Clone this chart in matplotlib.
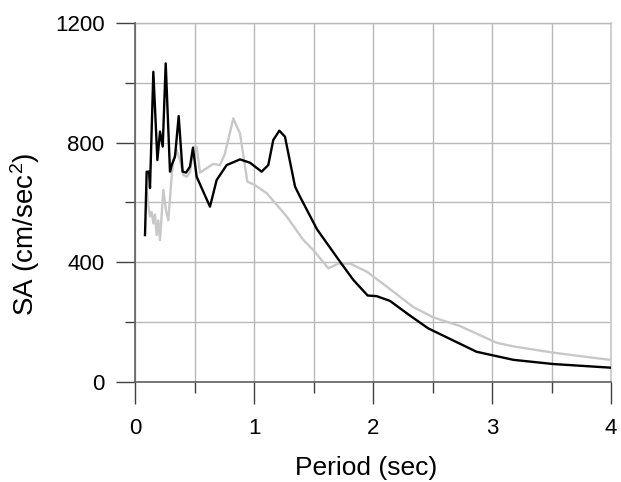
import matplotlib
matplotlib.use("Agg")
import matplotlib.pyplot as plt
from matplotlib.ticker import MultipleLocator

plt.rcParams['font.family'] = ['Liberation Sans', 'DejaVu Sans']
plt.rcParams['mathtext.fontset'] = 'custom'
plt.rcParams['mathtext.rm'] = 'Liberation Sans'
plt.rcParams['mathtext.default'] = 'regular'

# black record
period_b = [0.084, 0.098, 0.118, 0.126, 0.154, 0.188, 0.210, 0.233, 0.258, 0.294,
            0.308, 0.336, 0.367, 0.400, 0.430, 0.462, 0.487, 0.518, 0.630, 0.686,
            0.770, 0.882, 0.966, 1.064, 1.120, 1.162, 1.213, 1.260, 1.345, 1.387,
            1.530, 1.723, 1.835, 1.955, 2.030, 2.143, 2.300, 2.465, 2.870, 3.180,
            3.515, 3.990]
sa_b = [491, 703, 703, 648, 1037, 742, 837, 787, 1065, 703,
        725, 753, 889, 703, 700, 720, 783, 686, 586, 675,
        725, 744, 733, 703, 725, 809, 840, 820, 653, 619,
        510, 402, 341, 289, 287, 271, 225, 179, 101, 74,
        60, 48]

# gray record
period_g = [0.100, 0.108, 0.126, 0.140, 0.154, 0.168, 0.182, 0.196, 0.210, 0.238,
            0.260, 0.280, 0.308, 0.322, 0.350, 0.378, 0.406, 0.434, 0.462, 0.490,
            0.518, 0.546, 0.658, 0.714, 0.756, 0.826, 0.882, 0.944, 1.008, 1.107,
            1.275, 1.414, 1.498, 1.625, 1.710, 1.807, 1.947, 2.115, 2.340, 2.507,
            2.730, 3.040, 3.180, 3.515, 3.990]
sa_g = [642, 600, 553, 568, 530, 560, 491, 540, 475, 642,
        575, 541, 686, 742, 775, 742, 692, 686, 700, 786,
        786, 700, 729, 725, 764, 881, 831, 670, 658, 631,
        553, 475, 441, 380, 396, 396, 369, 319, 250, 216,
        187, 131, 119, 98, 74]

fig = plt.figure(figsize=(6.21, 4.82), dpi=100)
ax = fig.add_axes([0.2174, 0.2075, 0.7665, 0.7448])

ax.plot(period_g, sa_g, color='#c8c8c8', lw=1.7, zorder=3)
ax.plot(period_b, sa_b, color='black', lw=1.7, zorder=4)

ax.set_xlim(0, 4)
ax.set_ylim(0, 1200)
ax.xaxis.set_major_locator(MultipleLocator(1))
ax.xaxis.set_minor_locator(MultipleLocator(0.5))
ax.yaxis.set_major_locator(MultipleLocator(400))
ax.yaxis.set_minor_locator(MultipleLocator(200))

ax.grid(True, which='both', color='#b8b8b8', lw=1.0, zorder=0)
ax.set_axisbelow(True)
# grid lines sitting on the top and right limits
ax.axhline(1200, color='#b8b8b8', lw=1.0, clip_on=False, zorder=1)
ax.axvline(4, color='#c8c8c8', lw=1.2, clip_on=False, zorder=1)

for side in ['top', 'right']:
    ax.spines[side].set_visible(False)
for side in ['left', 'bottom']:
    ax.spines[side].set_color('#606060')
    ax.spines[side].set_linewidth(1.2)
    ax.spines[side].set_zorder(2)

ax.tick_params(axis='y', which='major', length=14, width=1, color='#404040',
               labelsize=16, pad=8)
ax.tick_params(axis='y', which='minor', length=7, width=1, color='#404040')
ax.tick_params(axis='x', which='major', length=16, width=1, color='#404040',
               labelsize=16, pad=10)
ax.tick_params(axis='x', which='minor', length=8, width=1, color='#404040')

ax.set_xlabel('Period (sec)', fontsize=19)
ax.set_ylabel(r'SA (cm/sec$^{2}$)', fontsize=20)
ax.xaxis.set_label_coords(0.485, -0.205)
ax.yaxis.set_label_coords(-0.195, 0.41)

fig.savefig('out.png', dpi=100)
